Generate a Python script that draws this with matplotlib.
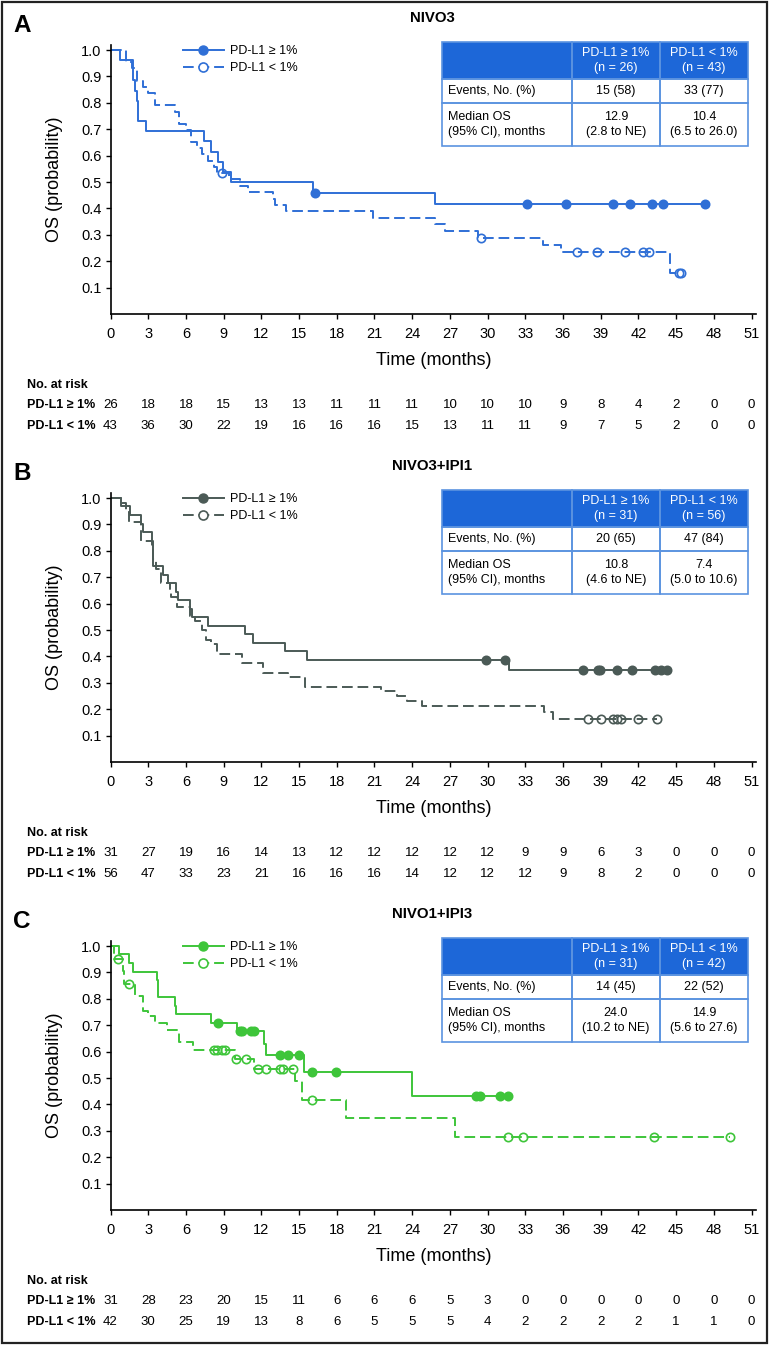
import numpy as np
import matplotlib
matplotlib.use("Agg")
import matplotlib.pyplot as plt
from matplotlib.lines import Line2D
from matplotlib.patches import Rectangle
from matplotlib import transforms

plt.rcParams['font.family'] = ['Liberation Sans', 'DejaVu Sans']
NARROW = ['Liberation Sans Narrow', 'Liberation Sans', 'DejaVu Sans']

W, H = 769, 1345
months = np.arange(0, 52, 3)

# ---- Panel A : NIVO3 ----
a_hi_t = [0, 0.76, 1.77, 1.95, 2.08, 2.21, 2.8, 7.44, 7.97, 8.58, 8.93, 9.59, 16.1, 25.8]
a_hi_s = [1.0, 0.962, 0.885, 0.846, 0.808, 0.731, 0.692, 0.654, 0.615, 0.577, 0.538, 0.500, 0.458, 0.417]
a_hi_c = [16.3, 33.1, 36.2, 39.95, 41.3, 43.1, 43.98, 47.3]
a_lo_t = [0, 1.23, 1.7, 2.1, 2.6, 3.0, 3.54, 5.13, 5.45, 5.98, 6.4, 6.86, 7.28, 7.72, 8.2, 8.5,
          9.45, 10.3, 10.96, 12.95, 13.1, 13.96, 20.9, 25.8, 26.6, 29.2, 34.4, 35.8, 44.5]
a_lo_s = [1.0, 0.953, 0.930, 0.884, 0.860, 0.837, 0.791, 0.767, 0.721, 0.698, 0.651, 0.628, 0.605,
          0.581, 0.558, 0.535, 0.510, 0.486, 0.461, 0.437, 0.413, 0.389, 0.365, 0.340, 0.316,
          0.289, 0.262, 0.236, 0.157]
a_lo_c = [8.85, 29.5, 37.1, 38.7, 40.9, 42.4, 42.8, 45.2, 45.4]
a_risk_hi = [26, 18, 18, 15, 13, 13, 11, 11, 11, 10, 10, 10, 9, 8, 4, 2, 0, 0]
a_risk_lo = [43, 36, 30, 22, 19, 16, 16, 16, 15, 13, 11, 11, 9, 7, 5, 2, 0, 0]
a_n = [26, 43]
a_events = ["15 (58)", "33 (77)"]
a_median = ["12.9\n(2.8 to NE)", "10.4\n(6.5 to 26.0)"]

# ---- Panel B : NIVO3+IPI1 ----
b_hi_t = [0, 0.81, 1.55, 2.45, 2.6, 3.28, 3.35, 3.42, 4.15, 4.6, 5.2, 5.35, 6.3, 6.46, 7.78,
          10.7, 11.3, 13.9, 15.65, 31.7]
b_hi_s = [1.0, 0.968, 0.935, 0.903, 0.871, 0.839, 0.806, 0.742, 0.710, 0.677, 0.645, 0.613,
          0.581, 0.548, 0.516, 0.484, 0.452, 0.419, 0.387, 0.348]
b_hi_c = [29.9, 31.4, 37.6, 38.8, 38.95, 40.3, 41.5, 43.3, 43.8, 44.3]
b_lo_t = [0, 0.9, 1.2, 1.5, 2.4, 3.3, 3.4, 3.6, 4.0, 4.7, 4.8, 5.3, 6.3, 6.72, 7.25, 7.6, 8.0,
          8.45, 10.5, 12.15, 14.15, 15.5, 21.5, 22.8, 23.6, 24.8, 34.5, 35.2]
b_lo_s = [1.0, 0.982, 0.946, 0.911, 0.839, 0.804, 0.768, 0.732, 0.679, 0.643, 0.625, 0.589,
          0.554, 0.536, 0.500, 0.464, 0.446, 0.411, 0.375, 0.339, 0.321, 0.286, 0.268, 0.250,
          0.232, 0.214, 0.190, 0.161]
b_lo_c = [38.0, 39.0, 40.0, 40.3, 40.6, 42.0, 43.5]
b_risk_hi = [31, 27, 19, 16, 14, 13, 12, 12, 12, 12, 12, 9, 9, 6, 3, 0, 0, 0]
b_risk_lo = [56, 47, 33, 23, 21, 16, 16, 16, 14, 12, 12, 12, 9, 8, 2, 0, 0, 0]
b_n = [31, 56]
b_events = ["20 (65)", "47 (84)"]
b_median = ["10.8\n(4.6 to NE)", "7.4\n(5.0 to 10.6)"]

# ---- Panel C : NIVO1+IPI3 ----
c_hi_t = [0, 0.7, 1.5, 1.8, 3.72, 3.8, 5.13, 5.25, 8.0, 10.1, 12.2, 12.35, 15.4, 24.0]
c_hi_s = [1.0, 0.968, 0.935, 0.903, 0.871, 0.806, 0.774, 0.742, 0.710, 0.677, 0.630, 0.588,
          0.524, 0.433]
c_hi_c = [8.58, 10.3, 10.45, 11.2, 11.4, 13.5, 14.15, 15.0, 16.0, 17.9, 29.1, 29.4, 31.0, 31.6]
c_lo_t = [0, 0.3, 1.0, 1.1, 1.95, 2.56, 3.0, 3.54, 4.47, 5.45, 6.59, 9.9, 11.4, 14.7, 15.2,
          18.7, 27.4]
c_lo_s = [1.0, 0.952, 0.905, 0.857, 0.810, 0.755, 0.736, 0.708, 0.683, 0.635, 0.606, 0.572,
          0.534, 0.490, 0.417, 0.347, 0.278]
c_lo_c = [0.62, 1.5, 8.2, 8.45, 8.85, 9.1, 10.0, 10.8, 11.75, 12.4, 13.5, 13.7, 14.5, 16.05,
          31.65, 32.8, 43.2, 49.3]
c_risk_hi = [31, 28, 23, 20, 15, 11, 6, 6, 6, 5, 3, 0, 0, 0, 0, 0, 0, 0]
c_risk_lo = [42, 30, 25, 19, 13, 8, 6, 5, 5, 5, 4, 2, 2, 2, 2, 1, 1, 0]
c_n = [31, 42]
c_events = ["14 (45)", "22 (52)"]
c_median = ["24.0\n(10.2 to NE)", "14.9\n(5.6 to 27.6)"]

panels = [
  ("A", "NIVO3", "#2f6fd6", a_hi_t, a_hi_s, a_hi_c, a_lo_t, a_lo_s, a_lo_c,
   a_risk_hi, a_risk_lo, a_n, a_events, a_median),
  ("B", "NIVO3+IPI1", "#4b5a56", b_hi_t, b_hi_s, b_hi_c, b_lo_t, b_lo_s, b_lo_c,
   b_risk_hi, b_risk_lo, b_n, b_events, b_median),
  ("C", "NIVO1+IPI3", "#3ec53a", c_hi_t, c_hi_s, c_hi_c, c_lo_t, c_lo_s, c_lo_c,
   c_risk_hi, c_risk_lo, c_n, c_events, c_median),
]
offsets = [0, 448, 896]

HEAD = "#1d67d8"
EDGE = "#5b93e0"
LW = 1.4

fig = plt.figure(figsize=(W / 100, H / 100), dpi=100)
over = fig.add_axes([0, 0, 1, 1], zorder=5)
over.set_xlim(0, W)
over.set_ylim(H, 0)
over.axis("off")
over.patch.set_alpha(0)

# outer frame
over.add_patch(Rectangle((1.5, 1.5), W - 4, H - 3.5, fill=False, ec="#222222", lw=1.6))


def km(ax, t, s, cens, color, dashed):
  t = np.asarray(t)
  s = np.asarray(s)
  t_end = max(t[-1], max(cens))
  tt = np.append(t, t_end)
  ss = np.append(s, s[-1])
  kw = dict(color=color, lw=LW)
  if dashed:
    kw["dashes"] = (5.5, 2.5)
  ax.step(tt, ss, where="post", **kw)
  cy = s[np.searchsorted(t, cens, side="right") - 1]
  ax.plot(cens, cy, "o", ms=6, mfc="none" if dashed else color, mec=color, mew=1.2,
          ls="none")


def draw_table(off, n, events, median):
  xs = [442, 572, 660, 748]
  ys = [off + 42, off + 79, off + 103, off + 146]
  over.add_patch(Rectangle((xs[0], ys[0]), xs[3] - xs[0], ys[1] - ys[0], fc=HEAD, ec="none"))
  for r in range(3):
    for c in range(3):
      over.add_patch(Rectangle((xs[c], ys[r]), xs[c + 1] - xs[c], ys[r + 1] - ys[r],
                               fill=False, ec=EDGE, lw=1.2))
  heads = [f"PD-L1 \u2265 1%\n(n = {n[0]})", f"PD-L1 < 1%\n(n = {n[1]})"]
  for c in range(2):
    xc = (xs[c + 1] + xs[c + 2]) / 2
    over.text(xc, (ys[0] + ys[1]) / 2, heads[c], color="white", ha="center", va="center",
              fontsize=9, linespacing=1.3)
    over.text(xc, (ys[1] + ys[2]) / 2, events[c], ha="center", va="center", fontsize=9)
    over.text(xc, (ys[2] + ys[3]) / 2, median[c], ha="center", va="center", fontsize=9,
              linespacing=1.3)
  over.text(xs[0] + 6, (ys[1] + ys[2]) / 2, "Events, No. (%)", ha="left", va="center",
            fontsize=9)
  over.text(xs[0] + 6, (ys[2] + ys[3]) / 2, "Median OS\n(95% CI), months", ha="left",
            va="center", fontsize=9, linespacing=1.3)


for off, p in zip(offsets, panels):
  (letter, title, color, hi_t, hi_s, hi_c, lo_t, lo_s, lo_c,
   risk_hi, risk_lo, n, events, median) = p

  ax = fig.add_axes([110.5 / W, 1 - (off + 314) / H, 645.5 / W, 269 / H])
  ax.patch.set_alpha(0)
  km(ax, hi_t, hi_s, hi_c, color, False)
  km(ax, lo_t, lo_s, lo_c, color, True)

  ax.set_xlim(0, 51.35)
  ax.set_ylim(0, 1.019)
  ax.set_xticks(months)
  ax.set_yticks(np.round(np.arange(0.1, 1.01, 0.1), 1))
  ax.set_yticklabels(["%.1f" % v for v in np.arange(0.1, 1.01, 0.1)])
  for side in ["top", "right"]:
    ax.spines[side].set_visible(False)
  for side in ["left", "bottom"]:
    ax.spines[side].set_linewidth(1.2)
  ax.tick_params(direction="out", length=3.6, width=1.0, labelsize=10.5)
  ax.tick_params(axis="x", pad=6)
  ax.tick_params(axis="y", pad=3)
  for lab in ax.get_xticklabels() + ax.get_yticklabels():
    lab.set_family(NARROW)

  ax.text(0.5, -0.173, "Time (months)", transform=ax.transAxes, ha="center", va="center",
          fontsize=13, family=NARROW)
  ax.text(-0.086, 0.5, "OS (probability)", transform=ax.transAxes, ha="center", va="center",
          rotation=90, fontsize=13, family=NARROW)

  handles = [
    Line2D([], [], color=color, lw=LW, marker="o", ms=6.5, mfc=color, mec=color),
    Line2D([], [], color=color, lw=LW, dashes=(5.5, 2.5), marker="o", ms=6.5, mfc="white",
           mec=color, mew=1.2),
  ]
  ax.legend(handles, ["PD-L1 \u2265 1%", "PD-L1 < 1%"], loc="upper left",
            bbox_to_anchor=(0.112, 1.0), frameon=False, fontsize=9, handlelength=3.3,
            handletextpad=0.5, borderaxespad=0, borderpad=0, labelspacing=0.4)

  over.text(22, off + 25, letter, fontsize=17.5, fontweight="bold", ha="center", va="center")
  over.text(432, off + 18, title, fontsize=10.8, fontweight="bold", ha="center", va="center")
  draw_table(off, n, events, median)

  # numbers at risk
  trans = transforms.blended_transform_factory(ax.transData, over.transData)
  over.text(27, off + 385, "No. at risk", fontsize=9, fontweight="bold", va="center")
  over.text(27, off + 405, "PD-L1 \u2265 1%", fontsize=9, fontweight="bold", va="center")
  over.text(27, off + 426, "PD-L1 < 1%", fontsize=9, fontweight="bold", va="center")
  for m, a, b in zip(months, risk_hi, risk_lo):
    ax.text(m, off + 405, str(a), transform=trans, ha="center", va="center", fontsize=9.5,
            clip_on=False)
    ax.text(m, off + 426, str(b), transform=trans, ha="center", va="center", fontsize=9.5,
            clip_on=False)

fig.savefig("out.png", dpi=100)
